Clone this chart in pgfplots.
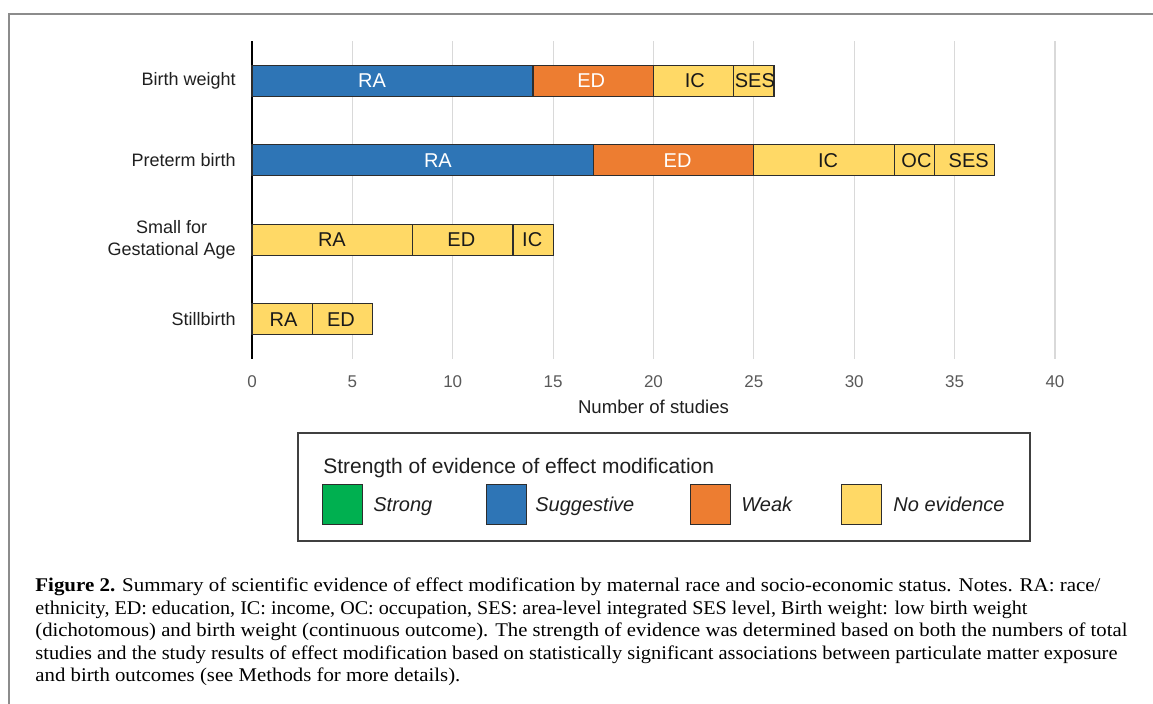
\documentclass[border=0pt]{standalone}
\usepackage{pgfplots}
\pgfplotsset{compat=1.18}
\usepackage{pgfplotstable}
\usepackage{graphicx}
\usepackage{fontspec}
\setmainfont{Liberation Sans}
\newfontfamily\capfont{Liberation Serif}

\definecolor{cBlue}{RGB}{46,117,182}
\definecolor{cOrange}{RGB}{237,125,49}
\definecolor{cYellow}{RGB}{255,217,102}
\definecolor{cGreen}{RGB}{0,176,80}
\definecolor{cGrid}{RGB}{217,217,217}
\definecolor{cTick}{RGB}{89,89,89}
\definecolor{cFrame}{RGB}{140,140,140}
\definecolor{cEdge}{RGB}{45,45,45}

% segments: RAb = race (suggestive), RAy = race (no evidence), etc.
\pgfplotstableread{
y RAb RAy EDo EDy IC OC SES
0 14 0 6 0 4 0 2
1 17 0 8 0 7 2 3
2 0 8 0 5 2 0 0
3 0 3 0 3 0 0 0
}\bars

\pgfplotstableread{
x y lab
5.98 0 RA
16.9 0 ED
9.26 1 RA
21.2 1 ED
}\wlabels

\pgfplotstableread{
x y lab
22.06 0 IC
25.05 0 SES
28.7 1 IC
33.1 1 OC
35.7 1 SES
3.98 2 RA
10.43 2 ED
13.96 2 IC
1.57 3 RA
4.43 3 ED
}\klabels

\newsavebox\capbox
\newcommand\fitline[2]{%
  \sbox\capbox{\capfont\fontsize{9.7}{11}\selectfont #2}%
  \pgfmathsetmacro\capf{#1/\the\wd\capbox}%
  \scalebox{\capf}[1]{\usebox\capbox}}

\pgfplotsset{geom/.style={
  at={(126pt,-179.5pt)}, anchor=south west,
  width=401.5pt, height=159pt, scale only axis,
  xmin=0, xmax=40, ymin=-0.5, ymax=3.5, y dir=reverse, clip=false}}

\begin{document}%
\begin{tikzpicture}
\path[use as bounding box] (0,0) rectangle (576.5pt,-352pt);

\begin{axis}[geom,
  xbar stacked, bar width=0.39,
  xtick={0,5,...,40}, ytick={0,1,2,3},
  yticklabels={Birth weight, Preterm birth, {Small for\\Gestational Age}, Stillbirth},
  axis x line*=bottom, axis y line*=left,
  x axis line style={draw=none},
  y axis line style={black, line width=0.75pt},
  major tick length=0pt,
  xmajorgrids, grid style={cGrid, line width=0.6pt},
  /pgf/number format/assume math mode=true,
  x tick label style={font=\fontsize{8.5}{10}\selectfont, text=cTick, anchor=center, yshift=-11.5pt},
  y tick label style={font=\fontsize{9}{11}\selectfont, text=black!88, align=center, anchor=east, inner sep=0pt, xshift=-8pt},
  xlabel={Number of studies},
  xlabel style={font=\fontsize{9.3}{11}\selectfont, text=black!88, at={(axis description cs:0.5,0)}, anchor=center, yshift=-24pt},
]
\addplot[fill=cBlue, draw=cEdge, line width=0.6pt] table[x=RAb, y=y] {\bars};
\addplot[fill=cYellow, draw=cEdge, line width=0.6pt] table[x=RAy, y=y] {\bars};
\addplot[fill=cOrange, draw=cEdge, line width=0.6pt] table[x=EDo, y=y] {\bars};
\addplot[fill=cYellow, draw=cEdge, line width=0.6pt] table[x=EDy, y=y] {\bars};
\addplot[fill=cYellow, draw=cEdge, line width=0.6pt] table[x=IC, y=y] {\bars};
\addplot[fill=cYellow, draw=cEdge, line width=0.6pt] table[x=OC, y=y] {\bars};
\addplot[fill=cYellow, draw=cEdge, line width=0.6pt] table[x=SES, y=y] {\bars};
\end{axis}

\begin{axis}[geom, hide axis]
\addplot[draw=none, mark=none,
  nodes near coords, point meta=explicit symbolic,
  every node near coord/.style={anchor=center, inner sep=0pt, text=white, font=\fontsize{10}{12}\selectfont}]
  table[x=x, y=y, meta=lab] {\wlabels};
\addplot[draw=none, mark=none,
  nodes near coords, point meta=explicit symbolic,
  every node near coord/.style={anchor=center, inner sep=0pt, text=black!90, font=\fontsize{10}{12}\selectfont}]
  table[x=x, y=y, meta=lab] {\klabels};
\end{axis}

\begin{scope}[x=0.5pt, y=-0.5pt]
\draw[cFrame, line width=1pt] (8.5,704) -- (8.5,14) -- (1153,14);
% legend
\draw[black!75, line width=0.75pt] (298,433) rectangle (1030,541);
\node[anchor=base west, inner sep=0pt, font=\fontsize{10.5}{12}\selectfont, text=black!88] at (323,473.5) {Strength of evidence of effect modification};
\tikzset{lgtext/.style={anchor=base west, inner sep=0pt, font=\itshape\fontsize{10}{12}\selectfont, text=black!88}}
\draw[fill=cGreen, draw=cEdge, line width=0.5pt] (322,485) rectangle (362,525);
\node[lgtext] at (373,512) {Strong};
\draw[fill=cBlue, draw=cEdge, line width=0.5pt] (486,485) rectangle (526,525);
\node[lgtext] at (535,512) {Suggestive};
\draw[fill=cOrange, draw=cEdge, line width=0.5pt] (690,485) rectangle (730,525);
\node[lgtext] at (741,512) {Weak};
\draw[fill=cYellow, draw=cEdge, line width=0.5pt] (841,485) rectangle (881,525);
\node[lgtext] at (893,512) {No evidence};
% caption
\tikzset{capline/.style={anchor=base west, inner sep=0pt}}
\node[capline] at (35,592) {\fitline{532.5}{\textbf{Figure 2.} Summary of scientific evidence of effect modification by maternal race and socio-economic status. Notes. RA: race/}};
\node[capline] at (35,614.5) {\fitline{496}{ethnicity, ED: education, IC: income, OC: occupation, SES: area-level integrated SES level, Birth weight: low birth weight}};
\node[capline] at (35,637) {\fitline{546}{(dichotomous) and birth weight (continuous outcome). The strength of evidence was determined based on both the numbers of total}};
\node[capline] at (35,659.5) {\fitline{541}{studies and the study results of effect modification based on statistically significant associations between particulate matter exposure}};
\node[capline] at (35,682) {\fitline{212.5}{and birth outcomes (see Methods for more details).}};
\end{scope}
\end{tikzpicture}%
\end{document}
